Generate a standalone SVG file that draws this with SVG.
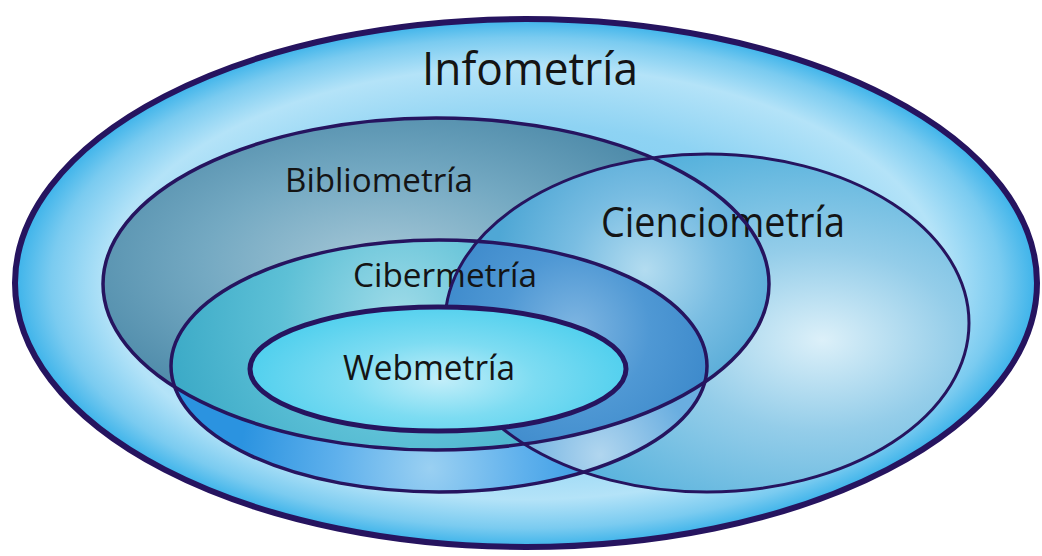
<svg xmlns="http://www.w3.org/2000/svg" width="1042" height="556" viewBox="0 0 1042 556">
  <style>
    .lbl { font-family: "Open Sans", "Noto Sans", "Liberation Sans", sans-serif; fill: #141414; font-weight: 400; }
    .ol { fill: none; stroke: #26145f; }
  </style>
  <defs>
    <radialGradient id="gOuter" cx="0.5" cy="0.5" r="0.5">
      <stop offset="0" stop-color="#6fc6ee"/>
      <stop offset="0.6" stop-color="#8ed3f3"/>
      <stop offset="0.82" stop-color="#b4e3f8"/>
      <stop offset="0.93" stop-color="#7acbf0"/>
      <stop offset="1" stop-color="#3cb3ea"/>
    </radialGradient>
    <radialGradient id="gBiblio" cx="0.42" cy="0.42" r="0.6" fx="0.42" fy="0.45">
      <stop offset="0" stop-color="#a8c9d8"/>
      <stop offset="0.45" stop-color="#74a9c2"/>
      <stop offset="1" stop-color="#3e7e9f"/>
    </radialGradient>
    <radialGradient id="gCiencio" cx="0.7" cy="0.55" r="0.6" fx="0.72" fy="0.55">
      <stop offset="0" stop-color="#dcf0f9"/>
      <stop offset="0.45" stop-color="#94cde9"/>
      <stop offset="1" stop-color="#55b1dc"/>
    </radialGradient>
    <radialGradient id="gBC" gradientUnits="userSpaceOnUse" cx="645" cy="270" r="150">
      <stop offset="0" stop-color="#b3dcf0"/>
      <stop offset="0.5" stop-color="#79bde2"/>
      <stop offset="1" stop-color="#4fa7d5"/>
    </radialGradient>
    <radialGradient id="gCiberBase" gradientUnits="userSpaceOnUse" cx="430" cy="468" r="190">
      <stop offset="0" stop-color="#9ad0f2"/>
      <stop offset="0.5" stop-color="#5eb0ec"/>
      <stop offset="1" stop-color="#2b93e0"/>
    </radialGradient>
    <radialGradient id="gCiberCien" gradientUnits="userSpaceOnUse" cx="600" cy="455" r="90">
      <stop offset="0" stop-color="#b1d6ef"/>
      <stop offset="1" stop-color="#6aaee0"/>
    </radialGradient>
    <radialGradient id="gCiberBib" gradientUnits="userSpaceOnUse" cx="400" cy="315" r="240">
      <stop offset="0" stop-color="#9fdbe8"/>
      <stop offset="0.5" stop-color="#5dc0d6"/>
      <stop offset="1" stop-color="#3aa9c6"/>
    </radialGradient>
    <radialGradient id="gCiberBibCien" gradientUnits="userSpaceOnUse" cx="575" cy="330" r="150">
      <stop offset="0" stop-color="#7fb6e2"/>
      <stop offset="0.5" stop-color="#4f98d4"/>
      <stop offset="1" stop-color="#3b88ca"/>
    </radialGradient>
    <radialGradient id="gWeb" gradientUnits="userSpaceOnUse" cx="440" cy="380" r="190" gradientTransform="translate(440 380) scale(1 0.4) translate(-440 -380)">
      <stop offset="0" stop-color="#c2eef9"/>
      <stop offset="0.5" stop-color="#7ddcf2"/>
      <stop offset="1" stop-color="#52d0ee"/>
    </radialGradient>
    <clipPath id="cBiblio"><ellipse cx="436" cy="284" rx="333" ry="166"/></clipPath>
    <clipPath id="cCiencio"><ellipse cx="707" cy="323" rx="262" ry="169"/></clipPath>
  </defs>

  <g id="infometria">
    <ellipse cx="526" cy="283" rx="511" ry="264" fill="url(#gOuter)" stroke="#26145f" stroke-width="6"/>
    <text class="lbl" x="422" y="85" font-size="46" textLength="216" lengthAdjust="spacingAndGlyphs">Infometría</text>
  </g>

  <g id="bibliometria">
    <ellipse cx="436" cy="284" rx="333" ry="166" fill="url(#gBiblio)"/>
    <text class="lbl" x="285" y="192" font-size="33" textLength="188" lengthAdjust="spacingAndGlyphs">Bibliometría</text>
  </g>

  <g id="cienciometria">
    <ellipse cx="707" cy="323" rx="262" ry="169" fill="url(#gCiencio)"/>
    <ellipse cx="707" cy="323" rx="262" ry="169" fill="url(#gBC)" clip-path="url(#cBiblio)"/>
  </g>

  <g id="cibermetria">
    <ellipse cx="439" cy="366" rx="268" ry="126" fill="url(#gCiberBase)"/>
    <ellipse cx="439" cy="366" rx="268" ry="126" fill="url(#gCiberCien)" clip-path="url(#cCiencio)"/>
    <ellipse cx="439" cy="366" rx="268" ry="126" fill="url(#gCiberBib)" clip-path="url(#cBiblio)"/>
    <g clip-path="url(#cBiblio)">
      <ellipse cx="439" cy="366" rx="268" ry="126" fill="url(#gCiberBibCien)" clip-path="url(#cCiencio)"/>
    </g>
    <text class="lbl" x="353" y="287" font-size="33" textLength="184" lengthAdjust="spacingAndGlyphs">Cibermetría</text>
  </g>

  <text class="lbl" x="601" y="237" font-size="42" textLength="244" lengthAdjust="spacingAndGlyphs">Cienciometría</text>

  <g id="outlines">
    <ellipse class="ol" cx="436" cy="284" rx="333" ry="166" stroke-width="3.5"/>
    <ellipse class="ol" cx="707" cy="323" rx="262" ry="169" stroke-width="3"/>
    <ellipse class="ol" cx="439" cy="366" rx="268" ry="126" stroke-width="3.5"/>
  </g>

  <g id="connectors"/>

  <g id="webmetria">
    <ellipse cx="438" cy="369" rx="188" ry="62" fill="url(#gWeb)" stroke="#26145f" stroke-width="5"/>
    <text class="lbl" x="343" y="380" font-size="34" textLength="172" lengthAdjust="spacingAndGlyphs">Webmetría</text>
  </g>
</svg>
